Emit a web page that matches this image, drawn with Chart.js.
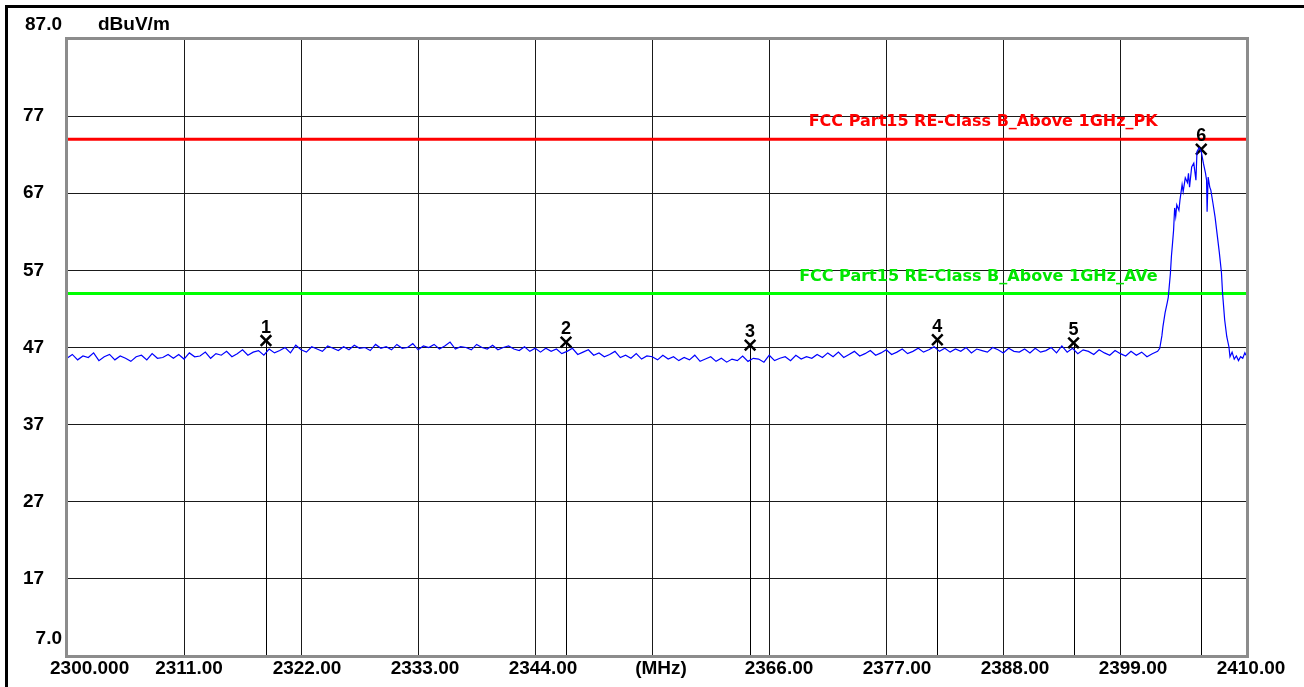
<!DOCTYPE html>
<html>
<head>
<meta charset="utf-8">
<title>Radiated emission 2300-2410 MHz</title>
<script src="https://cdn.jsdelivr.net/npm/chart.js@4.4.0/dist/chart.umd.min.js"></script>
<style>
  html, body { margin: 0; padding: 0; background: #fff; }
  canvas { display: block; }
</style>
</head>
<body>
<canvas id="chart" width="1304" height="687"></canvas>
<script>
// axis range and tick labels
const xMin = 2300;
const xMax = 2410.9;
const xTicks = [2300, 2311, 2322, 2333, 2344, 2355, 2366, 2377, 2388, 2399, 2410];
const xTickLabels = ["2300.000", "2311.00", "2322.00", "2333.00", "2344.00", "(MHz)",
                     "2366.00", "2377.00", "2388.00", "2399.00", "2410.00"];
const yTicks = [7, 17, 27, 37, 47, 57, 67, 77, 87];
const yTickLabels = ["7.0", "17", "27", "37", "47", "57", "67", "77", "87.0"];
const yUnit = "dBuV/m";

// limit lines
const pkLimit = 74;
const avLimit = 54;
const pkLabel = "FCC Part15 RE-Class B_Above 1GHz_PK";
const avLabel = "FCC Part15 RE-Class B_Above 1GHz_AVe";

// sweep: noise floor, 0.5 MHz steps from 2300.0 to 2402.5
const noiseStart = 2300;
const noiseStep = 0.5;
const noiseLevels = [
    45.6, 46.1, 45.4, 45.9, 45.7, 46.3, 45.3, 45.8, 46.1, 45.4, 45.9, 45.6, 45.2, 45.8, 46.0, 45.4, 46.2, 45.6, 45.7, 46.1,
    45.6, 46.1, 45.5, 46.3, 45.8, 45.9, 46.4, 45.6, 46.2, 46.0, 46.5, 45.8, 46.2, 46.7, 46.0, 46.4, 46.6, 46.0, 46.8, 46.3,
    46.6, 47.0, 46.3, 47.3, 46.7, 46.4, 47.1, 46.8, 46.5, 47.2, 46.9, 46.6, 47.1, 46.7, 47.3, 46.9, 47.0, 46.6, 47.4, 46.9,
    47.1, 46.7, 47.4, 46.9, 47.0, 47.5, 46.7, 47.2, 47.0, 47.4, 46.8, 47.2, 47.7, 46.8, 47.1, 47.0, 46.7, 47.4, 47.0, 46.8,
    47.3, 46.7, 47.0, 47.2, 46.8, 46.6, 47.1, 46.5, 46.9, 46.4, 46.9, 46.5, 46.8, 46.2, 46.5, 46.9, 46.1, 46.4, 46.7, 46.0,
    46.3, 45.8, 46.1, 46.5, 45.7, 46.0, 45.6, 46.2, 45.5, 45.9, 45.8, 45.4, 46.0, 45.5, 45.8, 45.3, 45.7, 45.4, 46.0, 45.2,
    45.5, 45.8, 45.2, 45.6, 45.1, 45.5, 45.3, 45.9, 45.2, 45.6, 45.5, 45.1, 46.0, 45.3, 45.6, 45.8, 45.3, 46.0, 45.5, 45.8,
    45.6, 46.1, 45.7, 46.3, 45.8, 46.4, 45.7, 46.1, 46.5, 45.9, 46.2, 46.6, 46.0, 46.3, 46.7, 46.1, 46.4, 46.8, 46.2, 46.5,
    46.9, 46.4, 46.7, 47.1, 46.5, 46.9, 46.4, 46.8, 46.5, 47.0, 46.3, 46.8, 46.6, 46.4, 47.0, 46.7, 46.3, 46.9, 46.5, 46.4,
    46.8, 46.3, 46.9, 46.4, 46.6, 47.0, 46.3, 47.2, 46.4, 46.9, 46.2, 46.7, 46.5, 46.1, 46.7, 46.3, 46.0, 46.6, 46.2, 45.9,
    46.5, 46.0, 46.4, 45.8, 46.2, 46.5
];

// sweep: carrier at the band edge, read point by point
const peakFreqs = [
    2402.7, 2402.9, 2403.0, 2403.2, 2403.4, 2403.5, 2403.7, 2403.8, 2403.9, 2404.0,
    2404.1, 2404.2, 2404.3, 2404.5, 2404.6, 2404.8, 2404.9, 2405.1, 2405.3, 2405.4,
    2405.5, 2405.7, 2405.9, 2406.0, 2406.1, 2406.2, 2406.4, 2406.6, 2406.8, 2407.0,
    2407.1, 2407.15, 2407.25, 2407.4, 2407.5, 2407.7, 2407.9, 2408.1, 2408.3, 2408.5,
    2408.6, 2408.8, 2409.0, 2409.2, 2409.3, 2409.5, 2409.7, 2409.9, 2410.1, 2410.3,
    2410.5, 2410.7, 2410.8
];
const peakLevels = [
    46.9, 48.5, 49.7, 51.5, 52.8, 53.5, 56.6, 58.9, 60.5, 62.2,
    65.1, 64.0, 65.5, 64.8, 66.1, 68.1, 67.2, 69.0, 68.4, 69.6,
    67.8, 70.4, 70.9, 69.8, 68.7, 72.4, 72.9, 72.4, 70.9, 69.6,
    68.7, 64.6, 69.1, 67.8, 67.4, 65.7, 63.9, 61.6, 59.3, 56.7,
    54.1, 50.6, 48.4, 47.1, 45.8, 46.4, 45.5, 45.9, 45.3, 45.8,
    45.6, 46.3, 46.0
];

// markers
const markerNums = ["1", "2", "3", "4", "5", "6"];
const markerFreqs = [2318.7, 2346.9, 2364.2, 2381.8, 2394.6, 2406.6];
const markerLevels = [47.9, 47.7, 47.3, 48.0, 47.6, 72.7];

const FONT = '"Liberation Sans", Arial, sans-serif';

const traceData = noiseLevels.map((v, i) => ({ x: noiseStart + i * noiseStep, y: v }))
    .concat(peakFreqs.map((f, i) => ({ x: f, y: peakLevels[i] })));

// frame, marker stems, axis texts
const decorations = {
    id: "decorations",
    beforeDraw(chart) {
        const ctx = chart.ctx;
        ctx.save();
        ctx.fillStyle = "#ffffff";
        ctx.fillRect(0, 0, chart.width, chart.height);
        ctx.fillStyle = "#000000";
        ctx.fillRect(5, 5, 3, chart.height - 5);
        ctx.fillRect(5, 5, chart.width - 5, 3);
        ctx.restore();
    },
    beforeDatasetsDraw(chart) {
        const ctx = chart.ctx;
        const xs = chart.scales.x, ys = chart.scales.y;
        const area = chart.chartArea;
        ctx.save();
        ctx.strokeStyle = "#000000";
        ctx.lineWidth = 1;
        markerFreqs.forEach((f, i) => {
            const px = Math.round(xs.getPixelForValue(f)) + 0.5;
            ctx.beginPath();
            ctx.moveTo(px, ys.getPixelForValue(markerLevels[i]));
            ctx.lineTo(px, area.bottom);
            ctx.stroke();
        });
        ctx.restore();
    },
    afterDraw(chart) {
        const ctx = chart.ctx;
        const xs = chart.scales.x, ys = chart.scales.y;
        const area = chart.chartArea;
        ctx.save();

        // plot border
        ctx.strokeStyle = "#8c8c8c";
        ctx.lineWidth = 3;
        ctx.strokeRect(area.left - 0.5, area.top - 0.5, area.right - area.left + 1, area.bottom - area.top + 1);

        // limit labels
        ctx.font = 'bold 16px "DejaVu Sans", ' + FONT;
        ctx.textAlign = "right";
        ctx.textBaseline = "alphabetic";
        const labelRight = xs.getPixelForValue(2402.5);
        ctx.fillStyle = "#ff0000";
        ctx.fillText(pkLabel, labelRight, ys.getPixelForValue(pkLimit) - 13);
        ctx.fillStyle = "#00e600";
        ctx.fillText(avLabel, labelRight, ys.getPixelForValue(avLimit) - 13);

        // marker numbers
        ctx.fillStyle = "#000000";
        ctx.font = "bold 18px " + FONT;
        ctx.textAlign = "center";
        markerFreqs.forEach((f, i) => {
            ctx.fillText(markerNums[i], xs.getPixelForValue(f), ys.getPixelForValue(markerLevels[i]) - 8);
        });

        // y tick labels
        ctx.font = "bold 19px " + FONT;
        ctx.textBaseline = "middle";
        yTicks.forEach((v, i) => {
            const label = yTickLabels[i];
            if (i === 0) {
                ctx.textAlign = "right";
                ctx.fillText(label, 62, area.bottom - 17);
            } else if (i === yTicks.length - 1) {
                ctx.textAlign = "right";
                ctx.fillText(label, 62, area.top - 14);
            } else {
                ctx.textAlign = "left";
                ctx.fillText(label, 23, ys.getPixelForValue(v));
            }
        });
        ctx.textAlign = "left";
        ctx.fillText(yUnit, 98, area.top - 14);

        // x tick labels, spread evenly across the plot width
        const w = area.right - area.left;
        xTickLabels.forEach((label, k) => {
            if (k === 0) {
                ctx.textAlign = "left";
                ctx.fillText(label, area.left - 17, area.bottom + 13);
            } else {
                ctx.textAlign = "center";
                ctx.fillText(label, area.left + k * w / 10 + 4, area.bottom + 13);
            }
        });
        ctx.restore();
    }
};

new Chart(document.getElementById("chart"), {
    type: "line",
    data: {
        datasets: [
            {
                label: "Trace",
                data: traceData,
                borderColor: "#0000ff",
                borderWidth: 1.2,
                pointRadius: 0,
                tension: 0,
            },
            {
                label: "PK limit",
                data: [{ x: xMin, y: pkLimit }, { x: xMax, y: pkLimit }],
                borderColor: "#ff0000",
                borderWidth: 3,
                pointRadius: 0,
            },
            {
                label: "AV limit",
                data: [{ x: xMin, y: avLimit }, { x: xMax, y: avLimit }],
                borderColor: "#00ff00",
                borderWidth: 3,
                pointRadius: 0,
            },
            {
                label: "Markers",
                data: markerFreqs.map((f, i) => ({ x: f, y: markerLevels[i] })),
                showLine: false,
                pointStyle: "crossRot",
                pointRadius: 7.5,
                pointBorderWidth: 2.5,
                pointBorderColor: "#000000",
                borderColor: "#000000",
            },
        ],
    },
    options: {
        responsive: false,
        animation: false,
        devicePixelRatio: 1,
        layout: { padding: { left: 67, top: 39, right: 57, bottom: 31 } },
        plugins: { legend: { display: false }, tooltip: { enabled: false } },
        scales: {
            x: {
                type: "linear",
                min: xMin,
                max: xMax,
                // grid only up to 2399; the 2410 label sits on the border
                afterBuildTicks: s => { s.ticks = xTicks.slice(0, -1).map(v => ({ value: v })); },
                afterFit: s => { s.height = 0; },
                ticks: { display: false },
                border: { display: false },
                grid: { color: "#1a1a1a", lineWidth: 1, drawTicks: false },
            },
            y: {
                type: "linear",
                min: 7,
                max: 87,
                afterBuildTicks: s => { s.ticks = yTicks.map(v => ({ value: v })); },
                afterFit: s => { s.width = 0; },
                ticks: { display: false },
                border: { display: false },
                grid: { color: "#1a1a1a", lineWidth: 1, drawTicks: false },
            },
        },
    },
    plugins: [decorations],
});
</script>
</body>
</html>
